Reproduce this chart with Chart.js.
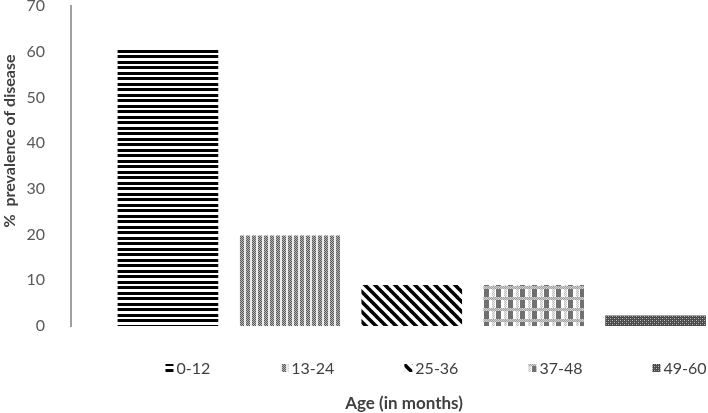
<!DOCTYPE html>
<html>
<head>
<meta charset="utf-8">
<script src="https://cdn.jsdelivr.net/npm/chart.js@4.4.1/dist/chart.umd.min.js"></script>
<style>
  html, body { margin: 0; padding: 0; background: #ffffff; }
  #wrap { width: 708px; height: 413px; }
</style>
</head>
<body>
<div id="wrap"><canvas id="c" width="708" height="413"></canvas></div>
<script>
// ---- data ----
const categories = ['0-12', '13-24', '25-36', '37-48', '49-60'];
const prevalence = [60.8, 19.7, 8.9, 8.9, 2.2];
const yTicks = [0, 10, 20, 30, 40, 50, 60, 70];
const yTitle = '%  prevalence of disease';
const xTitle = 'Age (in months)';

// ---- patterns ----
function makePattern(w, h, draw) {
  const c = document.createElement('canvas');
  c.width = w; c.height = h;
  const g = c.getContext('2d');
  g.fillStyle = '#ffffff';
  g.fillRect(0, 0, w, h);
  draw(g, w, h);
  return g.createPattern(c, 'repeat');
}
const patterns = [
  // horizontal stripes
  makePattern(1, 11, g => {
    g.fillStyle = '#000';
    g.fillRect(0, 0, 1, 3);
    g.fillRect(0, 6, 1, 3);
  }),
  // dotted vertical columns
  makePattern(6, 2, g => {
    g.fillStyle = '#ececec';
    g.fillRect(0, 0, 6, 2);
    g.fillStyle = '#5a5a5a';
    [0, 2].forEach(x => g.fillRect(x, 0, 1, 1));
    [1, 3].forEach(x => g.fillRect(x, 1, 1, 1));
    g.fillStyle = '#b4b4b4';
    [1, 3].forEach(x => g.fillRect(x, 0, 1, 1));
    [0, 2].forEach(x => g.fillRect(x, 1, 1, 1));
  }),
  // diagonal stripes "\"
  makePattern(10, 10, g => {
    g.strokeStyle = '#000';
    g.lineWidth = 3.6;
    for (let k = -1; k <= 1; k++) {
      g.beginPath();
      g.moveTo(-2, -2 + 10 * k);
      g.lineTo(12, 12 + 10 * k);
      g.stroke();
    }
  }),
  // plaid
  makePattern(12, 11, g => {
    for (let y = 0; y < 3; y++) for (let x = 0; x < 12; x++) {
      g.fillStyle = (x + y) % 2 ? '#a0a0a0' : '#d0d0d0';
      g.fillRect(x, y, 1, 1);
    }
    for (let y = 3; y < 11; y++) for (let x = 0; x < 3; x++) {
      g.fillStyle = (x + y) % 2 ? '#c0c0c0' : '#eeeeee';
      g.fillRect(x, y, 1, 1);
    }
    g.fillStyle = '#707070';
    g.fillRect(4, 3, 5, 8);
  }),
  // dark with light dots
  makePattern(4, 4, g => {
    g.fillStyle = '#4a4a4a';
    g.fillRect(0, 0, 4, 4);
    g.fillStyle = '#bdbdbd';
    g.fillRect(0, 0, 1, 1);
    g.fillRect(2, 2, 1, 1);
    g.fillStyle = '#7a7a7a';
    g.fillRect(2, 0, 1, 1);
    g.fillRect(0, 2, 1, 1);
  })
];

const datasets = categories.map((label, i) => ({
  label,
  data: [{ x: i + 1, y: prevalence[i] }],
  backgroundColor: patterns[i],
  borderWidth: 0
}));

const FONT = 'Lato, "Open Sans", "DejaVu Sans", sans-serif';

// titles + legend drawn in canvas
const annotations = {
  id: 'annotations',
  afterDraw(chart) {
    const ctx = chart.ctx;
    ctx.save();
    // y title
    ctx.fillStyle = '#404040';
    ctx.font = 'bold 16px ' + FONT;
    ctx.textAlign = 'center';
    ctx.textBaseline = 'middle';
    ctx.save();
    ctx.translate(10, 141);
    ctx.rotate(-Math.PI / 2);
    ctx.fillText(yTitle, 0, 0);
    ctx.restore();
    // x title
    ctx.font = 'bold 17px ' + FONT;
    ctx.textBaseline = 'alphabetic';
    ctx.fillText(xTitle, 404, 409);
    // legend
    ctx.font = '16px ' + FONT;
    ctx.textAlign = 'left';
    const box = 8, textGap = 3, gap = 70;
    const widths = chart.data.datasets.map(d => box + textGap + ctx.measureText(d.label).width);
    const total = widths.reduce((a, b) => a + b, 0) + gap * (widths.length - 1);
    let x = 436 - total / 2;
    chart.data.datasets.forEach((d, i) => {
      ctx.fillStyle = d.backgroundColor;
      ctx.fillRect(x, 364, box, box);
      ctx.fillStyle = '#404040';
      ctx.fillText(d.label, x + box + textGap, 374);
      x += widths[i] + gap;
    });
    ctx.restore();
  }
};

new Chart(document.getElementById('c'), {
  type: 'bar',
  data: { datasets },
  options: {
    responsive: false,
    animation: false,
    layout: { padding: { left: 0, right: 0, top: 0, bottom: 87 } },
    datasets: { bar: { grouped: false, barThickness: 100 } },
    plugins: { legend: { display: false }, tooltip: { enabled: false }, title: { display: false } },
    scales: {
      x: {
        type: 'linear',
        offset: false,
        bounds: 'data',
        min: 0.205,
        max: 5.43,
        grid: { display: false, offset: false },
        border: { display: false },
        ticks: { display: false },
        afterFit: s => { s.height = 0; s.paddingLeft = 0; s.paddingRight = 0; }
      },
      y: {
        min: yTicks[0],
        max: yTicks[yTicks.length - 1],
        afterBuildTicks: s => { s.ticks = yTicks.map(v => ({ value: v })); },
        ticks: { padding: 18, color: '#595959', font: { family: FONT, size: 16 } },
        grid: { display: false },
        border: { color: '#a0a0a0', width: 2 },
        afterFit: s => { s.width = 71; s.paddingTop = 6; s.paddingBottom = 0; }
      }
    }
  },
  plugins: [annotations]
});
</script>
</body>
</html>
